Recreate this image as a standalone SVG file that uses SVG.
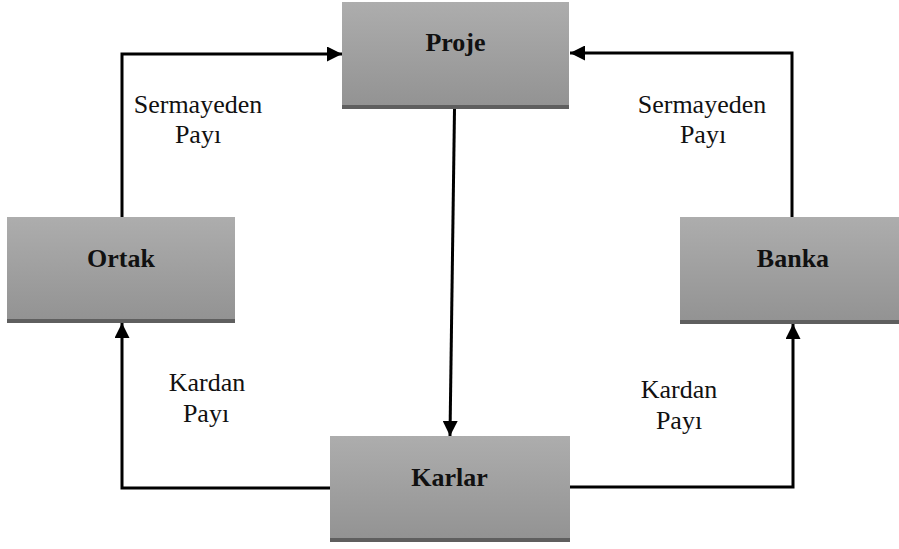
<svg xmlns="http://www.w3.org/2000/svg" width="899" height="549" viewBox="0 0 899 549">
  <defs>
    <linearGradient id="boxFill" x1="0" y1="0" x2="0" y2="1">
      <stop offset="0" stop-color="#adadad"/>
      <stop offset="1" stop-color="#939393"/>
    </linearGradient>
    <marker id="arrow" viewBox="0 0 10 10" refX="10" refY="5" markerWidth="5" markerHeight="5" orient="auto" markerUnits="strokeWidth">
      <path d="M0,0 L10,5 L0,10 Z" fill="#000"/>
    </marker>
  </defs>
  <style>
    .shadow { fill: #5f5f5f; }
    .box { fill: url(#boxFill); }
    text { font-family: 'Liberation Serif', 'Times New Roman', Times, serif; font-size: 26px; fill: #111; text-anchor: middle; }
    .title { font-weight: bold; }
    .edge { fill: none; stroke: #000; stroke-width: 3; marker-end: url(#arrow); }
  </style>
  <rect width="899" height="549" fill="#fff"/>

  <g id="proje">
    <rect class="shadow" x="342" y="6" width="227" height="103"/>
    <rect class="box" x="342" y="2" width="227" height="103"/>
    <text class="title" x="455.5" y="51" font-family="Liberation Serif, serif">Proje</text>
  </g>

  <g id="ortak">
    <rect class="shadow" x="7" y="221" width="228" height="102"/>
    <rect class="box" x="7" y="217" width="228" height="102"/>
    <text class="title" x="121" y="267" font-family="Liberation Serif, serif">Ortak</text>
  </g>

  <g id="banka">
    <rect class="shadow" x="680" y="221" width="219" height="103"/>
    <rect class="box" x="680" y="217" width="219" height="103"/>
    <text class="title" x="793" y="267" font-family="Liberation Serif, serif">Banka</text>
  </g>

  <g id="karlar">
    <rect class="shadow" x="330" y="440" width="240" height="102"/>
    <rect class="box" x="330" y="436" width="240" height="102"/>
    <text class="title" x="449.5" y="486" font-family="Liberation Serif, serif">Karlar</text>
  </g>

  <g id="connectors">
    <path class="edge" d="M122,217 V54 H342"/>
    <path class="edge" d="M792,217 V53 H570"/>
    <path class="edge" d="M454.5,109 L450,436"/>
    <path class="edge" d="M330,488 H122 V323"/>
    <path class="edge" d="M570,487 H793 V324"/>
  </g>

  <g id="edge-labels" font-family="Liberation Serif, serif">
    <text x="198" y="113">Sermayeden</text>
    <text x="198" y="143">Payı</text>
    <text x="702" y="113">Sermayeden</text>
    <text x="703" y="143">Payı</text>
    <text x="207" y="391">Kardan</text>
    <text x="206" y="422">Payı</text>
    <text x="679" y="398">Kardan</text>
    <text x="679" y="429">Payı</text>
  </g>
</svg>
